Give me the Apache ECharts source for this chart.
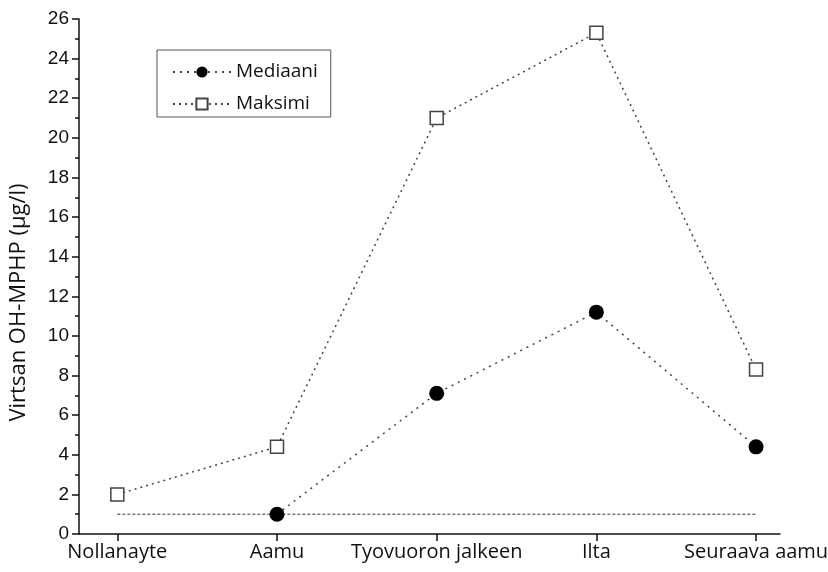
<!DOCTYPE html>
<html>
<head>
<meta charset="utf-8">
<script src="https://cdn.jsdelivr.net/npm/echarts@6/dist/echarts.min.js"></script>
<style>
  html, body { margin: 0; padding: 0; background: #fff; }
  #chart { width: 828px; height: 572px; }
</style>
</head>
<body>
<div id="chart"></div>
<script>
const categories = ['Nollanayte', 'Aamu', 'Tyovuoron jalkeen', 'Ilta', 'Seuraava aamu']
const mediaani = [null, 1.0, 7.1, 11.2, 4.4]
const maksimi = [2.0, 4.4, 21.0, 25.3, 8.3]
const baseline = 1.0 // vaakaviiva koko alueen yli

const toPoints = arr => arr.map((v, i) => [i, v]).filter(p => p[1] !== null)

const chart = echarts.init(document.getElementById('chart'))

chart.setOption({
  animation: false,
  grid: { left: 79, right: 48, top: 19, bottom: 38, outerBoundsMode: 'none' },
  legend: {
    orient: 'vertical',
    left: 157,
    top: 50,
    padding: [12, 13, 3, 15],
    itemGap: 12,
    itemWidth: 58,
    itemHeight: 14,
    borderColor: '#555',
    borderWidth: 1,
    textStyle: { fontFamily: 'Open Sans', fontSize: 19, color: '#111', lineHeight: 20 },
    data: ['Mediaani', 'Maksimi']
  },
  xAxis: {
    type: 'value',
    min: -0.24,
    max: 4.15,
    splitLine: { show: false },
    axisLine: { onZero: false, lineStyle: { color: '#111', width: 1.5 } },
    axisTick: { show: true, customValues: [0, 1, 2, 3, 4], length: 7, lineStyle: { color: '#111', width: 1.5 } },
    axisLabel: {
      customValues: [0, 1, 2, 3, 4],
      fontFamily: 'Open Sans',
      fontSize: 20,
      color: '#111',
      margin: 8,
      formatter: v => categories[Math.round(v)]
    }
  },
  yAxis: {
    type: 'value',
    min: 0,
    max: 26,
    interval: 2,
    name: 'Virtsan OH-MPHP (µg/l)',
    nameLocation: 'middle',
    nameGap: 49,
    nameTextStyle: { fontFamily: 'Open Sans', fontSize: 22, color: '#111', padding: [0, 52, 0, 0] },
    splitLine: { show: false },
    axisLine: { show: true, onZero: false, lineStyle: { color: '#111', width: 1.5 } },
    axisTick: { show: true, length: 7, lineStyle: { color: '#111', width: 1.5 } },
    minorTick: { show: true, splitNumber: 2, length: 4, lineStyle: { color: '#111', width: 1.5 } },
    axisLabel: { fontFamily: 'Liberation Sans', fontSize: 19, color: '#111', margin: 10 }
  },
  series: [
    {
      name: 'raja',
      type: 'line',
      data: [[0, baseline], [4, baseline]],
      symbol: 'none',
      silent: true,
      lineStyle: { color: '#333', width: 1, type: [3, 2] }
    },
    {
      name: 'Mediaani',
      type: 'line',
      data: toPoints(mediaani),
      symbol: 'circle',
      symbolSize: 15,
      itemStyle: { color: '#000' },
      lineStyle: { color: '#444', width: 1.5, type: [2, 5] }
    },
    {
      name: 'Maksimi',
      type: 'line',
      data: toPoints(maksimi),
      symbol: 'rect',
      symbolSize: 13,
      itemStyle: { color: '#fff', borderColor: '#444', borderWidth: 1.5 },
      lineStyle: { color: '#444', width: 1.5, type: [2, 4] }
    }
  ]
})
</script>
</body>
</html>
